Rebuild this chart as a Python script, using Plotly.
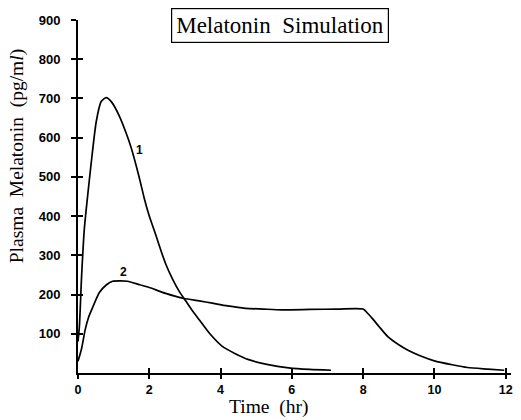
import plotly.graph_objects as go

# Curve 1 (bolus-like profile)
time_1 = [0, 0.04, 0.1, 0.18, 0.28, 0.37, 0.51, 0.65, 0.79, 0.95, 1.16, 1.35, 1.49,
          1.72, 1.86, 2.0, 2.19, 2.35, 2.47, 2.65, 2.84, 3.02, 3.2, 3.4, 3.7, 4.05,
          4.4, 4.79, 5.3, 5.91, 6.5, 7.1]
melatonin_1 = [80, 120, 245, 370, 460, 535, 640, 692, 702, 690, 655, 612, 575,
               498, 445, 400, 350, 306, 276, 240, 208, 184, 160, 136, 100, 68,
               50, 34, 22, 13, 9, 7]

# Curve 2 (sustained profile)
time_2 = [0, 0.1, 0.2, 0.3, 0.41, 0.6, 0.8, 0.97, 1.2, 1.39, 1.7, 2.0, 2.46, 2.98,
          3.4, 3.77, 4.2, 4.7, 5.2, 5.72, 6.5, 7.3, 8.0, 8.12, 8.25, 8.45, 8.7, 9.0,
          9.26, 9.6, 10.0, 10.5, 10.93, 11.5, 11.96]
melatonin_2 = [30, 62, 110, 143, 167, 205, 225, 234, 235, 234, 226, 218, 203, 190,
               184, 178, 171, 165, 163, 161, 162, 163, 163, 153, 140, 118, 92, 72,
               58, 44, 31, 21, 14, 10, 7]

x_ticks = [0, 2, 4, 6, 8, 10, 12]
y_ticks = [100, 200, 300, 400, 500, 600, 700, 800, 900]

curve_labels = ["1", "2"]
label_pos_t = [1.72, 1.28]
label_pos_v = [568, 257]

tick_font = dict(family="Liberation Sans", size=13, color="black", weight="bold")
xtick_font = dict(family="Liberation Sans", size=12.5, color="black", weight="bold")
serif = "Liberation Serif"

fig = go.Figure()
fig.add_trace(go.Scatter(x=time_1, y=melatonin_1, mode="lines",
                         line=dict(color="black", width=1.7, shape="spline", smoothing=0.6),
                         showlegend=False))
fig.add_trace(go.Scatter(x=time_2, y=melatonin_2, mode="lines",
                         line=dict(color="black", width=1.7, shape="spline", smoothing=0.6),
                         showlegend=False))
# transparent trace that activates the overlay axes (inside tick halves)
fig.add_trace(go.Scatter(x=time_2, y=melatonin_2, xaxis="x2", yaxis="y2", mode="lines",
                         line=dict(color="rgba(0,0,0,0)", width=1),
                         showlegend=False, hoverinfo="skip"))

for lab, t, v in zip(curve_labels, label_pos_t, label_pos_v):
    fig.add_annotation(x=t, y=v, text=lab, showarrow=False,
                       font=dict(family="Liberation Sans", size=12, color="black", weight="bold"))

fig.add_annotation(xref="paper", yref="paper", x=0.467, y=0.984,
                   xanchor="center", yanchor="middle",
                   text="Melatonin  Simulation", showarrow=False,
                   font=dict(family=serif, size=23, color="black"),
                   bordercolor="black", borderwidth=1.2, borderpad=4, bgcolor="white")

fig.add_annotation(xref="paper", yref="paper", x=-0.140, y=0.615,
                   xanchor="center", yanchor="middle", textangle=-90,
                   text="Plasma  Melatonin  (pg/m<i>l</i>)", showarrow=False,
                   font=dict(family=serif, size=19.5, color="black"))

fig.add_annotation(xref="paper", yref="paper", x=0.440, y=-0.1335,
                   xanchor="center", yanchor="bottom",
                   text="Time  (hr)", showarrow=False,
                   font=dict(family=serif, size=19.5, color="black"))

fig.update_layout(
    width=521, height=420,
    margin=dict(l=78, r=8, t=20, b=47),
    paper_bgcolor="white", plot_bgcolor="white",
    xaxis=dict(range=[0, 12.15], tickvals=x_ticks, ticktext=[str(v) for v in x_ticks],
               ticks="outside", ticklen=4, tickwidth=1.5, tickcolor="black",
               showline=True, linecolor="black", linewidth=2, showgrid=False,
               zeroline=False, tickfont=xtick_font),
    yaxis=dict(range=[0, 900], tickvals=y_ticks, ticktext=[str(v) for v in y_ticks],
               ticks="outside", ticklen=5, tickwidth=1.5, tickcolor="black",
               showline=True, linecolor="black", linewidth=2, showgrid=False,
               zeroline=False, tickfont=tick_font, ticklabelstandoff=8),
    xaxis2=dict(overlaying="x", anchor="y", range=[0, 12.15], tickvals=x_ticks,
                ticks="inside", ticklen=5, tickwidth=1.5, tickcolor="black",
                showticklabels=False, showline=False, showgrid=False, zeroline=False),
    yaxis2=dict(overlaying="y", anchor="x", side="left", range=[0, 900], tickvals=y_ticks,
                ticks="inside", ticklen=5, tickwidth=1.5, tickcolor="black",
                showticklabels=False, showline=False, showgrid=False, zeroline=False),
)

fig.write_html("out.html")
